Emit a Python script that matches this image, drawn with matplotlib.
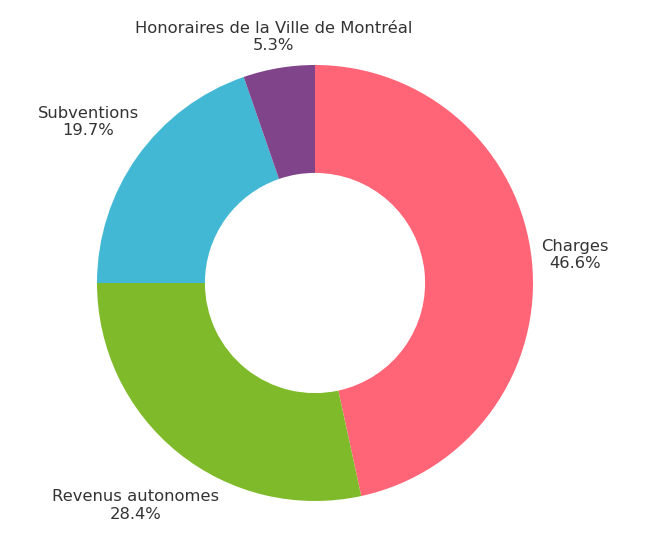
import matplotlib
matplotlib.use("Agg")
import matplotlib.pyplot as plt
import numpy as np

categories = ["Charges", "Revenus autonomes", "Subventions", "Honoraires de la Ville de Montréal"]
values = [46.6, 28.4, 19.7, 5.3]
colors = ["#FF6577", "#7FBA2A", "#42B8D5", "#80448A"]
label_radius = [1.20, 1.31, 1.275, 1.145]

W, H = 650, 544
cx, cy, R = 315, 283, 218

fig = plt.figure(figsize=(W / 100, H / 100), dpi=100)
ax = fig.add_axes([0, 0, 1, 1])
wedges, _ = ax.pie(values, colors=colors, startangle=90, counterclock=False,
                   radius=1, wedgeprops=dict(width=0.495, edgecolor="none"))
ax.set_xlim(-cx / R, (W - cx) / R)
ax.set_ylim(-(H - cy) / R, cy / R)
ax.set_aspect("equal")
ax.axis("off")

for w, cat, v, lr in zip(wedges, categories, values, label_radius):
    ang = np.deg2rad((w.theta1 + w.theta2) / 2)
    ax.text(lr * np.cos(ang), lr * np.sin(ang), f"{cat}\n{v:.1f}%",
            ha="center", va="center", fontsize=11.8, color="#333333",
            family="DejaVu Sans", linespacing=1.2)

fig.savefig("out.png", dpi=100)
